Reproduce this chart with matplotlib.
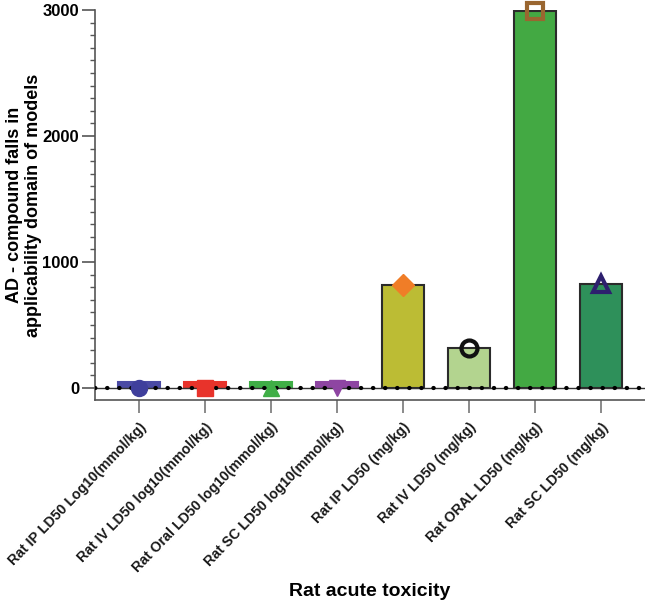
import matplotlib
matplotlib.use("Agg")
import matplotlib.pyplot as plt
from matplotlib.ticker import MultipleLocator

plt.rcParams['font.family'] = ['Liberation Sans', 'DejaVu Sans']

# data
categories = ["Rat IP LD50 Log10(mmol/kg)", "Rat IV LD50 log10(mmol/kg)",
              "Rat Oral LD50 log10(mmol/kg)", "Rat SC LD50 log10(mmol/kg)",
              "Rat IP LD50 (mg/kg)", "Rat IV LD50 (mg/kg)",
              "Rat ORAL LD50 (mg/kg)", "Rat SC LD50 (mg/kg)"]
bar_values = [50, 50, 50, 50, 818, 318, 2990, 822]
point_values = [3, 3, 3, 3, 818, 318, 2990, 822]

bar_colors = ["#4a4aa4", "#e8332b", "#3fae46", "#8e45a2",
              "#bcbc34", "#b3d48f", "#43a943", "#2e905a"]
bar_edges = ["#4a4aa4", "#e8332b", "#3fae46", "#8e45a2",
             "#2b2b2b", "#2b2b2b", "#2b2b2b", "#2b2b2b"]
markers = ["o", "s", "^", "v", "D", "o", "s", "^"]
marker_colors = ["#3f3f9c", "#e8332b", "#3fae46", "#8e45a2",
                 "#f07d27", "#111111", "#9a6630", "#2d1f6e"]
marker_filled = [True, True, True, True, True, False, False, False]

fig = plt.figure(figsize=(6.45, 6.05), dpi=100)
ax = fig.add_axes([95 / 645, 1 - 400 / 605, 1 - 95 / 645, 390 / 605])

x = list(range(len(categories)))
ax.bar(x, bar_values, width=0.64, color=bar_colors, edgecolor=bar_edges,
       linewidth=1.5, zorder=2)

# zero reference line with dots
ax.axhline(0, color="#333333", lw=1, zorder=3)
ax.axhline(0, color="black", lw=3.0, linestyle=(0, (0.1, 2.8)),
           dash_capstyle="round", zorder=4)

for i in x:
    if marker_filled[i]:
        ax.plot(i, point_values[i], marker=markers[i], ms=11.5,
                color=marker_colors[i], mec=marker_colors[i], zorder=5,
                clip_on=False)
    else:
        ax.plot(i, point_values[i], marker=markers[i], ms=11.5,
                mfc="none", mec=marker_colors[i], mew=3, zorder=5,
                clip_on=False)

ax.set_xlim(-0.667, 7.667)
ax.set_ylim(-95, 3000)
ax.yaxis.set_major_locator(MultipleLocator(1000))
ax.yaxis.set_minor_locator(MultipleLocator(100))

for s in ["top", "right"]:
    ax.spines[s].set_visible(False)
ax.spines["left"].set_bounds(-95, 3000)
ax.spines["left"].set_color("#555555")
ax.spines["bottom"].set_color("#555555")
ax.spines["left"].set_linewidth(1.2)
ax.spines["bottom"].set_linewidth(1.2)

ax.tick_params(axis="y", which="major", length=9.5, width=1.2, color="#555555",
               labelsize=12, pad=2)
ax.tick_params(axis="y", which="minor", length=3.6, width=1.0, color="#555555")
ax.tick_params(axis="x", length=9.5, width=1.2, color="#777777", pad=5)
for lab in ax.get_yticklabels():
    lab.set_fontweight("bold")

ax.set_xticks(x)
ax.set_xticklabels(categories, rotation=46, ha="right", rotation_mode="anchor",
                   fontsize=10.2, fontweight="bold", color="#1a1a1a")

ax.set_ylabel("AD - compound falls in\napplicability domain of models",
              fontsize=13, fontweight="bold")
ax.yaxis.set_label_coords(-0.096, 0.5)
ax.set_xlabel("Rat acute toxicity", fontsize=14, fontweight="bold", va="center")
ax.xaxis.set_label_coords(0.5, -0.49)

fig.savefig("out.png", dpi=100)
